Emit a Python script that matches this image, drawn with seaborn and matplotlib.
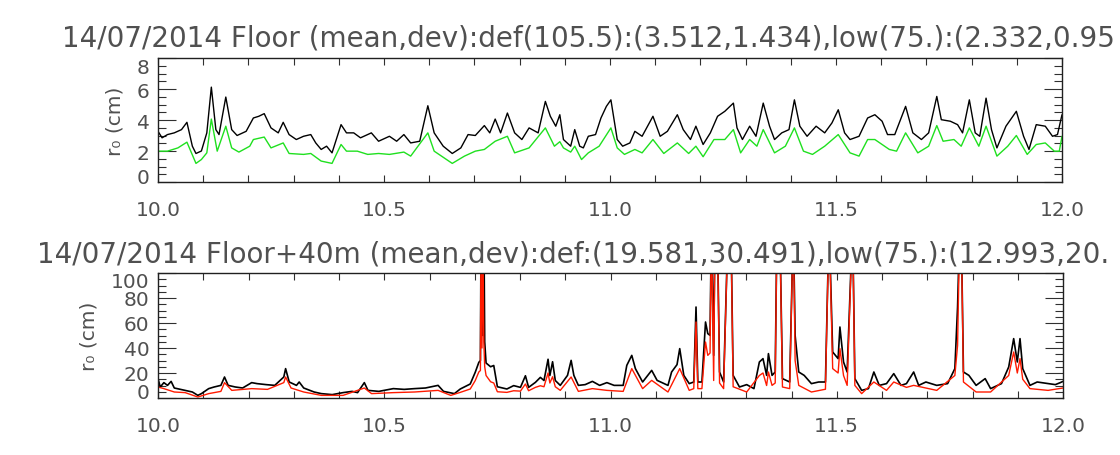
import matplotlib
matplotlib.use("Agg")
import matplotlib.pyplot as plt
from matplotlib.ticker import MultipleLocator, FixedLocator, FormatStrFormatter
from matplotlib.transforms import ScaledTranslation
import pandas as pd
import seaborn as sns

# ---------------- Floor: r0 time series (hour of day, cm) ----------------
floor_def_t = [10.000, 10.009, 10.021, 10.036, 10.052, 10.064, 10.076, 10.084, 10.096, 10.108,
               10.118, 10.128, 10.135, 10.150, 10.163, 10.175, 10.195, 10.211, 10.223, 10.235,
               10.250, 10.266, 10.277, 10.290, 10.306, 10.322, 10.338, 10.349, 10.361, 10.373,
               10.385, 10.405, 10.417, 10.433, 10.448, 10.472, 10.488, 10.512, 10.528, 10.544,
               10.559, 10.579, 10.597, 10.611, 10.631, 10.651, 10.670, 10.686, 10.702, 10.722,
               10.734, 10.746, 10.758, 10.773, 10.789, 10.805, 10.821, 10.841, 10.857, 10.868,
               10.880, 10.889, 10.897, 10.913, 10.922, 10.933, 10.941, 10.952, 10.968, 10.980,
               10.992, 11.002, 11.016, 11.028, 11.044, 11.055, 11.071, 11.095, 11.111, 11.127,
               11.149, 11.162, 11.178, 11.190, 11.206, 11.222, 11.238, 11.254, 11.273, 11.281,
               11.293, 11.309, 11.323, 11.339, 11.353, 11.364, 11.380, 11.396, 11.408, 11.420,
               11.436, 11.456, 11.475, 11.491, 11.505, 11.519, 11.531, 11.551, 11.570, 11.586,
               11.602, 11.614, 11.630, 11.654, 11.670, 11.689, 11.705, 11.723, 11.733, 11.753,
               11.769, 11.780, 11.795, 11.808, 11.818, 11.832, 11.844, 11.856, 11.876, 11.899,
               11.915, 11.927, 11.943, 11.963, 11.979, 11.990, 12.000]
floor_def_r0 = [3.27, 2.85, 3.06, 3.17, 3.38, 3.85, 2.31, 1.84, 2.00, 3.17,
                6.12, 3.38, 3.06, 5.48, 3.38, 3.00, 3.27, 4.13, 4.24, 4.41,
                3.49, 3.17, 3.85, 3.06, 2.74, 2.95, 3.06, 2.52, 2.10, 2.31,
                1.88, 3.70, 3.17, 3.17, 2.85, 3.17, 2.63, 2.95, 2.63, 3.06,
                2.52, 2.63, 4.92, 3.17, 2.31, 1.84, 2.20, 3.06, 3.00, 3.64,
                3.17, 4.06, 3.17, 4.45, 3.17, 2.74, 3.49, 3.17, 5.20, 4.24,
                3.60, 4.34, 2.74, 2.31, 3.38, 2.31, 2.20, 2.95, 3.06, 4.13,
                4.88, 5.30, 2.74, 2.31, 2.52, 3.27, 2.95, 4.24, 2.95, 3.27,
                4.34, 3.38, 2.74, 3.60, 2.42, 3.17, 4.24, 4.56, 5.09, 3.49,
                2.74, 3.60, 2.95, 5.09, 3.60, 2.74, 3.17, 3.38, 5.30, 3.60,
                2.95, 3.60, 3.17, 3.81, 4.66, 3.17, 2.74, 2.95, 4.13, 4.34,
                3.92, 3.06, 3.06, 4.88, 3.17, 2.74, 3.17, 5.52, 4.02, 3.92,
                3.70, 3.17, 5.30, 3.17, 2.95, 5.41, 3.38, 2.20, 3.60, 4.56,
                2.95, 2.10, 3.70, 3.60, 2.95, 3.06, 4.34]

floor_low_t = [10.000, 10.021, 10.044, 10.064, 10.084, 10.096, 10.108, 10.118, 10.131, 10.150,
               10.163, 10.179, 10.203, 10.211, 10.235, 10.250, 10.277, 10.290, 10.322, 10.338,
               10.361, 10.385, 10.405, 10.417, 10.441, 10.464, 10.488, 10.512, 10.544, 10.559,
               10.597, 10.611, 10.651, 10.678, 10.702, 10.722, 10.746, 10.773, 10.789, 10.821,
               10.857, 10.877, 10.889, 10.897, 10.913, 10.922, 10.937, 10.952, 10.976, 11.002,
               11.016, 11.032, 11.055, 11.071, 11.095, 11.119, 11.149, 11.174, 11.190, 11.206,
               11.230, 11.254, 11.273, 11.289, 11.309, 11.325, 11.339, 11.364, 11.388, 11.408,
               11.428, 11.448, 11.475, 11.505, 11.531, 11.551, 11.570, 11.586, 11.618, 11.634,
               11.654, 11.681, 11.705, 11.723, 11.737, 11.761, 11.777, 11.795, 11.816, 11.832,
               11.856, 11.880, 11.899, 11.923, 11.943, 11.963, 11.983, 11.994, 12.000]
floor_low_r0 = [1.99, 1.99, 2.20, 2.57, 1.20, 1.45, 1.88, 4.06, 1.99, 3.60,
                2.20, 1.93, 2.31, 2.74, 2.90, 2.20, 2.52, 1.84, 1.78, 1.84,
                1.35, 1.20, 2.42, 1.99, 1.99, 1.78, 1.84, 1.78, 1.93, 1.67,
                3.17, 1.99, 1.20, 1.67, 1.99, 2.10, 2.63, 2.95, 1.88, 2.20,
                3.49, 2.31, 2.60, 2.20, 1.93, 2.31, 1.45, 1.88, 2.31, 3.49,
                2.20, 1.78, 2.10, 1.88, 2.74, 1.84, 2.52, 1.84, 2.31, 1.63,
                2.74, 2.74, 3.38, 1.88, 2.74, 2.31, 3.38, 1.88, 2.31, 3.49,
                1.99, 1.78, 2.31, 3.06, 1.88, 1.67, 2.74, 2.74, 2.10, 1.99,
                3.17, 1.88, 2.31, 3.64, 2.63, 2.74, 2.31, 3.49, 2.31, 3.60,
                1.67, 2.31, 3.00, 1.78, 2.42, 2.52, 1.99, 1.99, 2.95]

# ---------------- Floor+40m: r0 time series (hour of day, cm) ----------------
f40_def_t = [10.000, 10.005, 10.013, 10.021, 10.029, 10.036, 10.060, 10.076, 10.088, 10.096,
             10.112, 10.124, 10.139, 10.147, 10.155, 10.171, 10.187, 10.207, 10.219, 10.239,
             10.258, 10.278, 10.282, 10.290, 10.306, 10.312, 10.322, 10.345, 10.361, 10.385,
             10.409, 10.429, 10.441, 10.456, 10.464, 10.488, 10.520, 10.544, 10.567, 10.591,
             10.619, 10.631, 10.655, 10.668, 10.690, 10.701, 10.709, 10.7125, 10.714, 10.716,
             10.718, 10.720, 10.722, 10.725, 10.735, 10.742, 10.750, 10.771, 10.786, 10.801,
             10.812, 10.819, 10.834, 10.845, 10.853, 10.862, 10.866, 10.872, 10.878, 10.889,
             10.905, 10.913, 10.919, 10.929, 10.944, 10.960, 10.976, 10.992, 11.008, 11.028,
             11.036, 11.047, 11.055, 11.071, 11.091, 11.103, 11.127, 11.135, 11.147, 11.153,
             11.162, 11.174, 11.184, 11.189, 11.193, 11.202, 11.210, 11.215, 11.220, 11.223,
             11.228, 11.231, 11.236, 11.241, 11.250, 11.260, 11.266, 11.271, 11.285, 11.301,
             11.317, 11.329, 11.337, 11.345, 11.349, 11.357, 11.364, 11.368, 11.374, 11.380,
             11.396, 11.404, 11.408, 11.416, 11.428, 11.444, 11.460, 11.475, 11.483, 11.491,
             11.503, 11.507, 11.515, 11.523, 11.535, 11.540, 11.555, 11.570, 11.582, 11.594,
             11.610, 11.626, 11.642, 11.654, 11.670, 11.681, 11.697, 11.721, 11.745, 11.761,
             11.767, 11.772, 11.775, 11.780, 11.792, 11.808, 11.828, 11.840, 11.864, 11.880,
             11.891, 11.899, 11.905, 11.911, 11.927, 11.943, 11.967, 11.983, 11.994, 12.000]
f40_def_r0 = [15.5, 8.8, 12.3, 10.1, 13.3, 8.0, 6.1, 4.8, 2.1, 3.5,
              7.5, 8.8, 10.1, 16.8, 10.1, 8.8, 8.0, 12.3, 11.5, 10.7,
              10.1, 16.8, 23.5, 12.8, 10.1, 12.8, 8.0, 4.8, 3.5, 2.7,
              4.3, 5.3, 4.3, 12.3, 6.1, 5.3, 7.5, 6.9, 7.5, 8.0,
              10.1, 5.3, 3.5, 7.2, 11.2, 20.5, 28.5, 30.0, 140.0, 60.0,
              50.0, 150.0, 45.0, 28.0, 25.0, 26.0, 9.0, 7.2, 9.9, 8.5,
              17.8, 8.5, 12.5, 16.5, 14.0, 31.0, 18.0, 29.0, 14.0, 10.1,
              18.1, 30.1, 18.1, 10.1, 10.7, 13.3, 10.1, 12.3, 10.1, 10.1,
              26.1, 34.1, 23.5, 12.8, 22.1, 14.1, 10.1, 20.8, 26.7, 39.5,
              18.1, 11.5, 12.8, 72.8, 12.8, 12.8, 60.8, 51.5, 50.1, 140.0,
              34.1, 140.0, 140.0, 20.8, 12.8, 140.0, 140.0, 18.1, 8.8, 10.7,
              7.5, 28.8, 31.5, 18.1, 35.5, 18.1, 20.8, 140.0, 140.0, 15.5,
              12.8, 140.0, 50.1, 20.8, 18.1, 11.5, 12.8, 12.8, 140.0, 36.8,
              31.5, 56.8, 28.8, 20.8, 140.0, 15.5, 6.1, 7.5, 20.8, 10.1,
              11.5, 19.5, 10.1, 11.5, 20.8, 10.1, 12.8, 10.1, 11.5, 23.5,
              72.8, 140.0, 140.0, 20.8, 18.1, 10.1, 15.5, 7.5, 11.5, 24.8,
              47.5, 28.8, 47.5, 23.5, 10.1, 12.8, 11.5, 10.7, 12.3, 13.3]

f40_low_t = [10.000, 10.013, 10.036, 10.060, 10.088, 10.112, 10.139, 10.147, 10.163, 10.207,
             10.242, 10.278, 10.282, 10.294, 10.322, 10.361, 10.409, 10.456, 10.472, 10.520,
             10.567, 10.619, 10.647, 10.668, 10.690, 10.701, 10.709, 10.7125, 10.714, 10.716,
             10.718, 10.720, 10.722, 10.725, 10.735, 10.742, 10.750, 10.771, 10.786, 10.801,
             10.812, 10.819, 10.834, 10.845, 10.853, 10.862, 10.866, 10.872, 10.878, 10.889,
             10.913, 10.929, 10.960, 10.992, 11.028, 11.047, 11.071, 11.091, 11.127, 11.153,
             11.174, 11.184, 11.189, 11.193, 11.202, 11.210, 11.215, 11.220, 11.223, 11.228,
             11.231, 11.236, 11.241, 11.250, 11.260, 11.266, 11.271, 11.301, 11.329, 11.337,
             11.345, 11.349, 11.357, 11.364, 11.368, 11.374, 11.380, 11.396, 11.404, 11.408,
             11.416, 11.444, 11.475, 11.483, 11.491, 11.503, 11.507, 11.515, 11.523, 11.535,
             11.540, 11.555, 11.582, 11.610, 11.626, 11.654, 11.670, 11.721, 11.761, 11.767,
             11.772, 11.775, 11.780, 11.808, 11.840, 11.880, 11.891, 11.899, 11.905, 11.911,
             11.927, 11.967, 12.000]
f40_low_r0 = [8.8, 7.5, 4.8, 4.3, 0.8, 3.5, 5.3, 12.3, 6.1, 7.5,
              6.9, 12.3, 16.8, 8.0, 4.8, 2.1, 2.1, 8.0, 3.5, 4.3,
              4.8, 6.1, 2.1, 4.5, 7.2, 13.9, 20.8, 22.0, 140.0, 40.0,
              130.0, 45.0, 25.0, 18.0, 13.0, 12.0, 5.0, 4.5, 5.8, 5.5,
              11.2, 5.8, 8.5, 9.8, 9.0, 20.0, 12.0, 17.0, 9.0, 6.1,
              16.8, 5.3, 7.5, 6.1, 5.3, 23.5, 7.5, 14.1, 4.8, 23.5,
              6.1, 7.5, 60.8, 7.5, 7.5, 44.8, 34.1, 36.0, 140.0, 14.0,
              140.0, 140.0, 12.0, 7.5, 140.0, 140.0, 9.0, 4.8, 18.0, 20.0,
              10.0, 20.8, 10.1, 12.0, 140.0, 140.0, 8.8, 7.5, 140.0, 30.0,
              10.1, 4.8, 7.0, 140.0, 23.5, 20.0, 39.5, 18.0, 10.1, 140.0,
              10.1, 3.5, 12.8, 6.1, 12.8, 8.5, 10.1, 6.1, 18.0, 42.0,
              140.0, 140.0, 12.8, 4.8, 4.8, 18.0, 36.8, 20.0, 31.5, 15.0,
              7.5, 6.1, 8.0]

titles = [
    "14/07/2014 Floor (mean,dev):def(105.5):(3.512,1.434),low(75.):(2.332,0.95",
    "14/07/2014 Floor+40m (mean,dev):def:(19.581,30.491),low(75.):(12.993,20.",
]
ylabel = "r\u2080 (cm)"
x_ticks = [10.0, 10.5, 11.0, 11.5, 12.0]
floor_yticks = [0, 2, 4, 6, 8]
f40_yticks = [0, 20, 40, 60, 80, 100]

sns.set_style("ticks")
plt.rcParams["font.family"] = ["DejaVu Sans"]
TEXT = "#505050"

fig = plt.figure(figsize=(11.2, 4.56), dpi=100)
ax_top = fig.add_axes([158 / 1120, 1 - 183 / 456, 904 / 1120, 124 / 456])
ax_bot = fig.add_axes([158 / 1120, 1 - 399 / 456, 905 / 1120, 125 / 456])

floor_def = pd.DataFrame({"t": floor_def_t, "r0": floor_def_r0})
floor_low = pd.DataFrame({"t": floor_low_t, "r0": floor_low_r0})
f40_def = pd.DataFrame({"t": f40_def_t, "r0": f40_def_r0})
f40_low = pd.DataFrame({"t": f40_low_t, "r0": f40_low_r0})

sns.lineplot(data=floor_def, x="t", y="r0", ax=ax_top, color="black", lw=1.0,
             estimator=None, sort=False)
sns.lineplot(data=floor_low, x="t", y="r0", ax=ax_top, color="#1fe01f", lw=1.0,
             estimator=None, sort=False)
sns.lineplot(data=f40_def, x="t", y="r0", ax=ax_bot, color="black", lw=1.2,
             estimator=None, sort=False)
sns.lineplot(data=f40_low, x="t", y="r0", ax=ax_bot, color="#ff1a00", lw=1.0,
             estimator=None, sort=False)

ax_top.set_ylim(0, 8)
ax_top.yaxis.set_major_locator(FixedLocator(floor_yticks))
ax_top.yaxis.set_minor_locator(MultipleLocator(0.5))
ax_bot.set_ylim(0, 100)
ax_bot.yaxis.set_major_locator(FixedLocator(f40_yticks))
ax_bot.yaxis.set_minor_locator(MultipleLocator(5))

title_pos = {ax_top: (62 / 1120, 1 - 38 / 456), ax_bot: (37 / 1120, 1 - 255 / 456)}
for ax, title in ((ax_top, titles[0]), (ax_bot, titles[1])):
    ax.set_xlim(10.0, 12.0)
    ax.set_xticks(x_ticks)
    ax.xaxis.set_major_formatter(FormatStrFormatter("%.1f"))
    ax.xaxis.set_minor_locator(MultipleLocator(0.1))
    ax.yaxis.set_major_formatter(FormatStrFormatter("%d"))
    ax.set_xlabel("")
    ax.set_ylabel(ylabel, fontsize=14.5, color=TEXT, labelpad=9)
    for side in ("left", "right", "top", "bottom"):
        ax.spines[side].set_visible(True)
        ax.spines[side].set_color("#202020")
        ax.spines[side].set_linewidth(1.0)
    ax.tick_params(axis="both", which="both", direction="in", top=True, right=True,
                   colors="#303030", labelcolor=TEXT, labelsize=14.5)
    ax.tick_params(axis="x", which="both", length=5, width=0.8, pad=13)
    ax.tick_params(axis="y", which="major", length=13, width=0.8, pad=6)
    ax.tick_params(axis="y", which="minor", length=6, width=0.8)
    ax.grid(False)
    tx, ty = title_pos[ax]
    fig.text(tx, ty, title, fontsize=20, color=TEXT, ha="left", va="center")

# nudge the end labels of each y axis a few pixels inside the frame
fig.canvas.draw()
shift = 7 / fig.dpi
for ax, ticks in ((ax_top, floor_yticks), (ax_bot, f40_yticks)):
    lo, hi = str(ticks[0]), str(ticks[-1])
    for lab in ax.yaxis.get_ticklabels():
        if lab.get_text() == lo:
            lab.set_transform(lab.get_transform() + ScaledTranslation(0, shift, fig.dpi_scale_trans))
        elif lab.get_text() == hi:
            lab.set_transform(lab.get_transform() + ScaledTranslation(0, -shift, fig.dpi_scale_trans))

fig.savefig("out.png", dpi=100)
